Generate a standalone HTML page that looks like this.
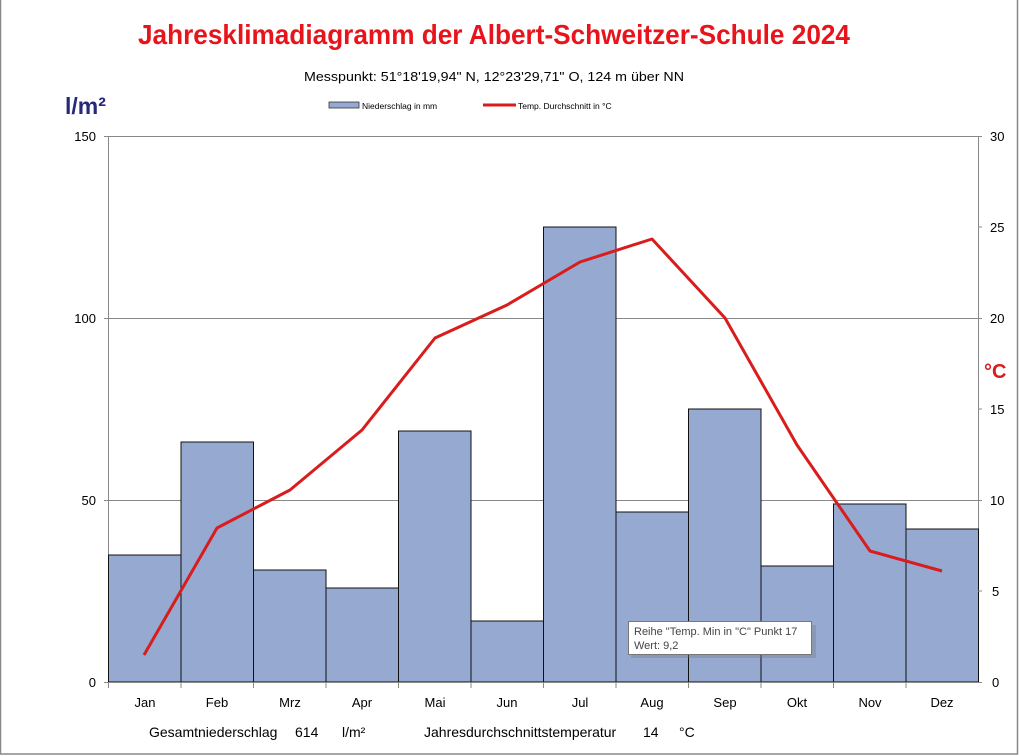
<!DOCTYPE html>
<html><head><meta charset="utf-8"><style>
html,body{margin:0;padding:0;background:#fff;}
svg{display:block;font-family:"Liberation Sans",sans-serif;}
</style></head><body>
<svg width="1019" height="756" viewBox="0 0 1019 756">
<rect x="0.5" y="-2" width="1017" height="756" fill="#fff" stroke="#888" stroke-width="1.5"/>
<text x="494" y="44" font-size="28" font-weight="bold" fill="#e8141b" text-anchor="middle" textLength="712" lengthAdjust="spacingAndGlyphs">Jahresklimadiagramm der Albert-Schweitzer-Schule 2024</text>
<text x="494" y="81" font-size="13" fill="#000" text-anchor="middle" textLength="380" lengthAdjust="spacingAndGlyphs">Messpunkt:  51°18'19,94" N,  12°23'29,71" O,  124 m über NN</text>
<rect x="329" y="102" width="30" height="6" fill="#95a9d1" stroke="#333" stroke-width="0.8"/>
<text x="362" y="109" font-size="8.5" fill="#000">Niederschlag in mm</text>
<line x1="483" y1="105" x2="516" y2="105" stroke="#d91c1c" stroke-width="3"/>
<text x="518" y="109" font-size="8.5" fill="#000">Temp. Durchschnitt in °C</text>
<text x="65" y="114" font-size="23" font-weight="bold" fill="#26287a">l/m²</text>
<text x="984" y="378" font-size="20" font-weight="bold" fill="#d91c1c">°C</text>
<!-- gridlines -->
<g stroke="#888" stroke-width="1">
<line x1="104" y1="136.5" x2="982" y2="136.5"/>
<line x1="104" y1="318.5" x2="982" y2="318.5"/>
<line x1="104" y1="500.5" x2="982" y2="500.5"/>
<line x1="108.5" y1="136" x2="108.5" y2="682"/>
<line x1="978.5" y1="136" x2="978.5" y2="682"/>
</g>
<!-- bars -->
<g fill="#95a9d1" stroke="#111" stroke-width="1">
<rect x="108.5" y="555" width="72.5" height="127"/>
<rect x="181" y="442" width="72.5" height="240"/>
<rect x="253.5" y="570" width="72.5" height="112"/>
<rect x="326" y="588" width="72.5" height="94"/>
<rect x="398.5" y="431" width="72.5" height="251"/>
<rect x="471" y="621" width="72.5" height="61"/>
<rect x="543.5" y="227" width="72.5" height="455"/>
<rect x="616" y="512" width="72.5" height="170"/>
<rect x="688.5" y="409" width="72.5" height="273"/>
<rect x="761" y="566" width="72.5" height="116"/>
<rect x="833.5" y="504" width="72.5" height="178"/>
<rect x="906" y="529" width="72.5" height="153"/>
</g>
<line x1="104" y1="682.5" x2="982" y2="682.5" stroke="#888"/>
<g stroke="#888">
<line x1="108.5" y1="682" x2="108.5" y2="688"/><line x1="181" y1="682" x2="181" y2="688"/><line x1="253.5" y1="682" x2="253.5" y2="688"/><line x1="326" y1="682" x2="326" y2="688"/><line x1="398.5" y1="682" x2="398.5" y2="688"/><line x1="471" y1="682" x2="471" y2="688"/><line x1="543.5" y1="682" x2="543.5" y2="688"/><line x1="616" y1="682" x2="616" y2="688"/><line x1="688.5" y1="682" x2="688.5" y2="688"/><line x1="761" y1="682" x2="761" y2="688"/><line x1="833.5" y1="682" x2="833.5" y2="688"/><line x1="906" y1="682" x2="906" y2="688"/>
<line x1="978" y1="227" x2="982" y2="227"/><line x1="978" y1="409" x2="982" y2="409"/><line x1="978" y1="591" x2="982" y2="591"/>
</g>
<polyline fill="none" stroke="#d91c1c" stroke-width="3" stroke-linejoin="round" points="144,655 217,528 290,490 362,430 435,338 507,305 580,262 652,239 725,318 797,445 870,551 942,571"/>
<g font-size="13" fill="#000" text-anchor="end">
<text x="96" y="141">150</text><text x="96" y="323">100</text><text x="96" y="505">50</text><text x="96" y="687">0</text>
</g>
<g font-size="13" fill="#000">
<text x="990" y="141">30</text><text x="990" y="232">25</text><text x="990" y="323">20</text><text x="990" y="414">15</text><text x="990" y="505">10</text><text x="992" y="596">5</text><text x="992" y="687">0</text>
</g>
<g font-size="13" fill="#000" text-anchor="middle">
<text x="145" y="707">Jan</text><text x="217" y="707">Feb</text><text x="290" y="707">Mrz</text><text x="362" y="707">Apr</text><text x="435" y="707">Mai</text><text x="507" y="707">Jun</text><text x="580" y="707">Jul</text><text x="652" y="707">Aug</text><text x="725" y="707">Sep</text><text x="797" y="707">Okt</text><text x="870" y="707">Nov</text><text x="942" y="707">Dez</text>
</g>
<g font-size="14" fill="#000">
<text x="149" y="737">Gesamtniederschlag</text><text x="295" y="737">614</text><text x="342" y="737">l/m²</text>
<text x="424" y="737">Jahresdurchschnittstemperatur</text><text x="643" y="737">14</text><text x="679" y="737">°C</text>
</g>
<rect x="631" y="625" width="185" height="33" fill="#777" opacity="0.35"/>
<rect x="628.5" y="621.5" width="183" height="33" fill="#fff" stroke="#777"/>
<text x="634" y="635" font-size="11" fill="#444">Reihe "Temp. Min in "C" Punkt 17</text>
<text x="634" y="649" font-size="11" fill="#444">Wert: 9,2</text>
</svg>
</body></html>
